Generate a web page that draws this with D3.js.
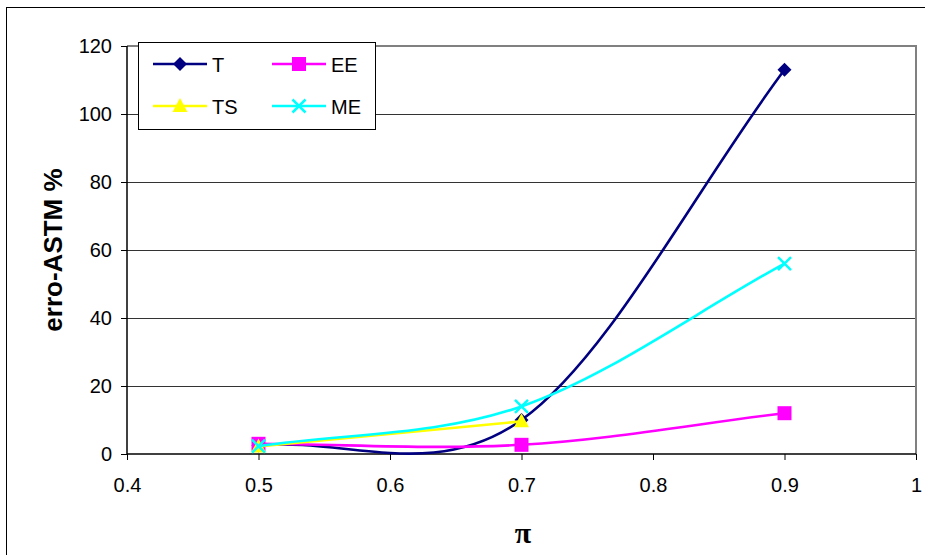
<!DOCTYPE html>
<html>
<head>
<meta charset="utf-8">
<script src="https://cdn.jsdelivr.net/npm/d3@7/dist/d3.min.js"></script>
<style>
  html, body { margin: 0; padding: 0; background: #fff; }
  svg { display: block; font-family: "Liberation Sans", Arial, sans-serif; }
</style>
</head>
<body>
<svg id="chart" width="925" height="555"></svg>
<script>
// π values on the x axis
const piValues = [0.5, 0.7, 0.9];
// erro-ASTM % for each method
const seriesT  = [2.5, 10, 113];
const seriesEE = [3.0, 2.7, 12];
const seriesTS = [2.2, 9.6];
const seriesME = [2.3, 14, 56];

const seriesNames  = ["T", "EE", "TS", "ME"];
const seriesColors = ["#000080", "#FF00FF", "#FFFF00", "#00FFFF"];
const seriesShapes = ["diamond", "square", "triangle", "cross"];

const xTicks = [0.4, 0.5, 0.6, 0.7, 0.8, 0.9, 1];
const yTicks = [0, 20, 40, 60, 80, 100, 120];

const svg = d3.select("#chart");
const W = 925, H = 555;
const plot = { left: 127, right: 916, top: 46, bottom: 454 };

const x = d3.scaleLinear().domain([0.4, 1]).range([plot.left, plot.right]);
const y = d3.scaleLinear().domain([0, 120]).range([plot.bottom, plot.top]);

// Smoothed spline: cubic Bezier through every point, interior tangents
// (next - prev) / 6, end tangents (neighbour - end) / 3.
function smoothCurve(context) {
  let pts = [];
  return {
    areaStart() {}, areaEnd() {},
    lineStart() { pts = []; },
    point(px, py) { pts.push([+px, +py]); },
    lineEnd() {
      const n = pts.length;
      if (!n) return;
      context.moveTo(pts[0][0], pts[0][1]);
      if (n === 2) { context.lineTo(pts[1][0], pts[1][1]); return; }
      const tan = pts.map((p, i) => {
        if (i === 0) return [(pts[1][0] - p[0]) / 3, (pts[1][1] - p[1]) / 3];
        if (i === n - 1) return [(p[0] - pts[n - 2][0]) / 3, (p[1] - pts[n - 2][1]) / 3];
        return [(pts[i + 1][0] - pts[i - 1][0]) / 6, (pts[i + 1][1] - pts[i - 1][1]) / 6];
      });
      for (let i = 0; i < n - 1; i++) {
        const a = pts[i], b = pts[i + 1];
        context.bezierCurveTo(a[0] + tan[i][0], a[1] + tan[i][1],
                              b[0] - tan[i + 1][0], b[1] - tan[i + 1][1],
                              b[0], b[1]);
      }
    }
  };
}

// outer chart frame
svg.append("rect")
  .attr("x", 6.5).attr("y", 7.5).attr("width", W + 20).attr("height", H + 20)
  .attr("fill", "none").attr("stroke", "#000").attr("stroke-width", 1);

// horizontal gridlines
svg.append("g")
  .selectAll("line")
  .data(yTicks.filter(d => d > 0 && d < 120))
  .join("line")
  .attr("x1", plot.left).attr("x2", plot.right)
  .attr("y1", d => Math.round(y(d)) + 0.5).attr("y2", d => Math.round(y(d)) + 0.5)
  .attr("stroke", "#333").attr("stroke-width", 1);

// plot area border (top and right)
svg.append("path")
  .attr("d", `M${plot.left},${plot.top} H${plot.right} V${plot.bottom}`)
  .attr("fill", "none").attr("stroke", "#808080").attr("stroke-width", 2);

// axes
const yAxis = d3.axisLeft(y).tickValues(yTicks).tickSize(6).tickPadding(9).tickFormat(d3.format("d"));
const xAxis = d3.axisBottom(x).tickValues(xTicks).tickSize(6).tickPadding(18).tickFormat(d => String(d));

const gy = svg.append("g").attr("transform", `translate(${plot.left},0)`).call(yAxis);
const gx = svg.append("g").attr("transform", `translate(0,${plot.bottom})`).call(xAxis);
[gy, gx].forEach(g => {
  g.select(".domain").attr("stroke", "#000").attr("stroke-width", 1.5);
  g.selectAll(".tick line").attr("stroke", "#000");
  g.selectAll(".tick text")
    .attr("font-size", 20).attr("fill", "#000")
    .attr("font-family", "'Liberation Sans', Arial, sans-serif");
});
gy.select(".domain").attr("d", `M0,${plot.top}V${plot.bottom}`);
gx.select(".domain").attr("d", `M${plot.left},0H${plot.right}`);

// axis titles
svg.append("text")
  .attr("transform", `translate(62,${(plot.top + plot.bottom) / 2}) rotate(-90)`)
  .attr("text-anchor", "middle")
  .attr("font-size", 26).attr("font-weight", "bold")
  .text("erro-ASTM %");

svg.append("text")
  .attr("x", 523).attr("y", 543)
  .attr("text-anchor", "middle")
  .attr("font-family", "'Liberation Serif', 'Times New Roman', serif")
  .attr("font-size", 30).attr("font-weight", "bold")
  .text("π");

// marker drawing
function marker(g, shape, color, cx, cy) {
  if (shape === "diamond") {
    g.append("path")
      .attr("d", `M${cx},${cy - 7} L${cx + 7},${cy} L${cx},${cy + 7} L${cx - 7},${cy} Z`)
      .attr("fill", color);
  } else if (shape === "square") {
    g.append("rect")
      .attr("x", cx - 7).attr("y", cy - 7).attr("width", 14).attr("height", 14)
      .attr("fill", color);
  } else if (shape === "triangle") {
    g.append("path")
      .attr("d", `M${cx},${cy - 8} L${cx + 7.5},${cy + 6} L${cx - 7.5},${cy + 6} Z`)
      .attr("fill", color);
  } else {
    g.append("path")
      .attr("d", `M${cx - 6.5},${cy - 6.5} L${cx + 6.5},${cy + 6.5} M${cx + 6.5},${cy - 6.5} L${cx - 6.5},${cy + 6.5}`)
      .attr("stroke", color).attr("stroke-width", 2.5).attr("fill", "none");
  }
}

const allSeries = [seriesT, seriesEE, seriesTS, seriesME];
const line = d3.line()
  .x(d => x(d[0])).y(d => y(d[1]))
  .curve(smoothCurve);

const gSeries = svg.append("g");
allSeries.forEach((vals, i) => {
  const pts = vals.map((v, k) => [piValues[k], v]);
  const g = gSeries.append("g");
  g.append("path")
    .attr("d", line(pts))
    .attr("fill", "none")
    .attr("stroke", seriesColors[i])
    .attr("stroke-width", 2.6);
  pts.forEach(p => marker(g, seriesShapes[i], seriesColors[i], x(p[0]), y(p[1])));
});

// legend
const lg = svg.append("g");
lg.append("rect")
  .attr("x", 138.5).attr("y", 42.5).attr("width", 237).attr("height", 87)
  .attr("fill", "#fff").attr("stroke", "#000").attr("stroke-width", 1);

const legendPos = [
  { x: 153, y: 64 }, { x: 272, y: 64 },
  { x: 153, y: 106 }, { x: 272, y: 106 }
];
seriesNames.forEach((name, i) => {
  const p = legendPos[i];
  lg.append("line")
    .attr("x1", p.x).attr("x2", p.x + 54)
    .attr("y1", p.y).attr("y2", p.y)
    .attr("stroke", seriesColors[i]).attr("stroke-width", 2.6);
  marker(lg, seriesShapes[i], seriesColors[i], p.x + 27, p.y);
  lg.append("text")
    .attr("x", p.x + 59).attr("y", p.y + 7.5)
    .attr("font-size", 20)
    .text(name);
});
</script>
</body>
</html>
